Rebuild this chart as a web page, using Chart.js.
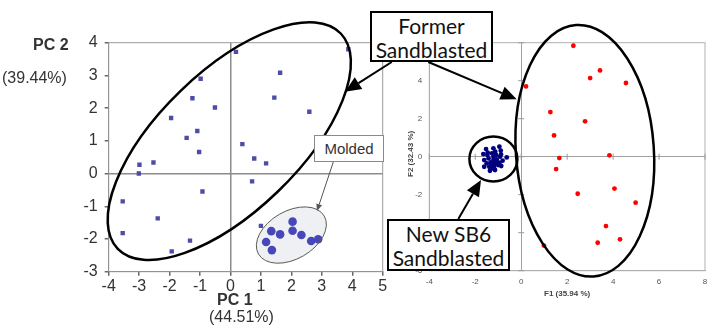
<!DOCTYPE html>
<html>
<head>
<meta charset="utf-8">
<script src="https://cdn.jsdelivr.net/npm/chart.js@4.4.0/dist/chart.umd.min.js"></script>
<style>
  body { margin: 0; background: #fff; }
  #wrap { position: relative; width: 719px; height: 329px; overflow: hidden; }
  canvas { position: absolute; top: 0; }
  #left { left: 0; }
  #right { left: 390px; }
  #arrows { left: 0; z-index: 2; pointer-events: none; }
  .lbl { position: absolute; font-family: "Liberation Sans", Arial, sans-serif; color: #333; white-space: nowrap; z-index: 3; }
  .box { position: absolute; background: #fff; border: 2px solid #000; box-sizing: border-box;
         font-family: Lato, "Noto Sans", sans-serif; font-size: 21px; line-height: 24px; text-align: center; color: #111; z-index: 4; }
  #molded { position: absolute; left: 314px; top: 135px; width: 70px; height: 27px; box-sizing: border-box;
            border: 1px solid #8a8a8a; background: #fff; font-family: "Liberation Sans", Arial, sans-serif;
            font-size: 15px; line-height: 25px; text-align: center; color: #333; z-index: 3; }
</style>
</head>
<body>
<div id="wrap">
  <canvas id="left" width="390" height="329"></canvas>
  <canvas id="right" width="329" height="329"></canvas>
  <canvas id="arrows" width="719" height="329"></canvas>

  <div class="lbl" style="left:33px; top:36px; font-size:16px; font-weight:bold;">PC 2</div>
  <div class="lbl" style="left:2px; top:69px; font-size:16px;">(39.44%)</div>
  <div class="lbl" style="left:217px; top:291px; font-size:16px; font-weight:bold;">PC 1</div>
  <div class="lbl" style="left:209px; top:308px; font-size:16px;">(44.51%)</div>

  <div class="lbl" style="left:544px; top:289px; font-size:8px; font-weight:bold; color:#444;">F1 (35.94 %)</div>
  <div class="lbl" style="left:386px; top:149px; font-size:8px; font-weight:bold; color:#444; transform:rotate(-90deg); transform-origin:24px 4px;">F2 (32.43 %)</div>

  <div id="molded">Molded</div>
  <div class="box" style="left:370px; top:11px; width:123px; height:51px; padding-top:1px;">Former<br>Sandblasted</div>
  <div class="box" style="left:387px; top:219px; width:123px; height:52px; padding-top:1px;">New SB6<br>Sandblasted</div>
</div>

<script>
// left plot: PC 1 / PC 2
const pcSandX = [0.18, 3.87, 1.63, -0.98, -1.25, 1.44, -0.51, 2.59, -1.95, -1.09, -1.44, 0.39, -1.03,
  0.78, 1.17, -2.53, -2.99, -3.01, 0.71, -0.92, -3.54, -2.39, -3.54, -1.33, -1.93, 1.0];
const pcSandY = [3.72, 3.80, 3.08, 2.90, 2.30, 2.32, 2.02, 1.89, 1.70, 1.30, 1.09, 0.90, 0.66,
  0.46, 0.31, 0.34, 0.27, 0.00, -0.24, -0.55, -0.85, -1.37, -1.82, -2.05, -2.38, -1.60];
const moldedX = [1.34, 1.63, 2.04, 2.04, 2.33, 1.17, 1.36, 2.65, 2.88];
const moldedY = [-1.76, -1.86, -1.47, -1.75, -1.88, -2.09, -2.34, -2.06, -2.01];

// right plot: F1 / F2
const formerX = [2.27, 3.43, 3.00, 4.56, 0.21, 1.27, 2.78, 1.43, 1.66, 3.84, 1.52, 2.46, 4.06,
  4.98, 3.69, 4.30, 3.33, 0.99];
const formerY = [5.84, 4.54, 4.14, 3.88, 3.70, 2.35, 1.86, 1.12, -0.07, 0.07, -0.65, -1.95, -1.68,
  -2.42, -3.65, -4.35, -4.53, -4.68];
const newSbX = [-1.53, -1.65, -1.46, -1.21, -0.95, -1.27, -1.13, -0.88, -0.63, -1.61, -1.42, -1.21,
  -1.07, -0.92, -1.33, -1.14, -1.00, -0.87, -1.61, -1.39, -1.24, -1.36, -1.14, -1.21, -1.04, -1.47,
  -1.10, -1.29, -0.95, -0.81, -1.50, -0.89, -1.18];
const newSbY = [0.40, 0.14, 0.21, 0.44, 0.53, 0.18, 0.26, 0.12, -0.04, -0.18, -0.09, 0.00,
  -0.14, 0.00, -0.30, -0.35, -0.44, -0.49, -0.53, -0.53, -0.61, -0.74, -0.70, -0.18, -0.26, 0.09,
  0.09, -0.44, -0.32, -0.21, -0.35, 0.32, -0.53];

const pcXTicks = [-4, 5, 1];
const pcYTicks = [-3, 4, 1];
const fXTicks = [-4, 8, 2];
const fYTicks = [-6, 6, 2];

function pts(xs, ys) {
  return xs.map((x, i) => ({ x: x, y: ys[i] }));
}

// group outlines, centred on data values
const pcGroups = [
  { x: -0.04, y: 0.99, rx: 155, ry: 70, angle: -44, stroke: '#000', width: 2.5 },
  { x: 2.0, y: -1.88, rx: 38, ry: 24, angle: -30, stroke: '#5a5a50', width: 1, shade: '#eef0f4' },
];
const fGroups = [
  { x: 2.77, y: 0.31, rx: 69, ry: 126, angle: -4, stroke: '#000', width: 2.5 },
  { x: -1.21, y: -0.12, rx: 24, ry: 22.5, angle: 0, stroke: '#000', width: 2.5 },
];

function ellipsePath(chart, s) {
  const ctx = chart.ctx;
  const cx = chart.scales.x.getPixelForValue(s.x);
  const cy = chart.scales.y.getPixelForValue(s.y);
  ctx.beginPath();
  ctx.ellipse(cx, cy, s.rx, s.ry, s.angle * Math.PI / 180, 0, Math.PI * 2);
}

function groupPlugin(shapes, frame, zeroTicks) {
  return {
    id: 'groups',
    beforeDatasetsDraw(chart) {
      const ctx = chart.ctx;
      const a = chart.chartArea;
      ctx.save();
      ctx.strokeStyle = frame;
      ctx.lineWidth = 1;
      ctx.strokeRect(a.left, a.top, a.right - a.left, a.bottom - a.top);
      if (zeroTicks) {
        const x0 = chart.scales.x.getPixelForValue(0);
        const y0 = chart.scales.y.getPixelForValue(0);
        ctx.strokeStyle = '#999';
        chart.scales.x.ticks.forEach(t => {
          const px = chart.scales.x.getPixelForValue(t.value);
          ctx.beginPath(); ctx.moveTo(px, y0 - 3); ctx.lineTo(px, y0 + 3); ctx.stroke();
        });
        chart.scales.y.ticks.forEach(t => {
          const py = chart.scales.y.getPixelForValue(t.value);
          ctx.beginPath(); ctx.moveTo(x0 - 3, py); ctx.lineTo(x0 + 3, py); ctx.stroke();
        });
      }
      shapes.forEach(s => {
        if (!s.shade) return;
        ellipsePath(chart, s);
        ctx.fillStyle = s.shade;
        ctx.fill();
      });
      ctx.restore();
    },
    afterDatasetsDraw(chart) {
      const ctx = chart.ctx;
      ctx.save();
      shapes.forEach(s => {
        ellipsePath(chart, s);
        ctx.strokeStyle = s.stroke;
        ctx.lineWidth = s.width;
        ctx.stroke();
      });
      ctx.restore();
    }
  };
}

function zeroLine(color) {
  return c => (c.tick && c.tick.value === 0 ? color : 'rgba(0,0,0,0)');
}

new Chart(document.getElementById('left'), {
  type: 'scatter',
  data: {
    datasets: [
      { data: pts(pcSandX, pcSandY), pointStyle: 'rect', pointRadius: 3.1, backgroundColor: '#4d4da6', borderWidth: 0 },
      { data: pts(moldedX, moldedY), pointRadius: 4.3, backgroundColor: '#4747b8', borderWidth: 0 },
    ]
  },
  options: {
    responsive: false,
    animation: false,
    layout: { padding: { left: 0, right: 7.3, top: 42.7, bottom: 0 } },
    plugins: {
      legend: { display: false },
      tooltip: { enabled: false },
    },
    scales: {
      x: {
        min: pcXTicks[0], max: pcXTicks[1],
        ticks: { stepSize: pcXTicks[2], padding: 1, color: '#333', font: { family: 'Liberation Sans', size: 16 } },
        grid: { color: zeroLine('#8c8c8c'), lineWidth: 1.5, tickColor: '#666', tickLength: 4 },
        border: { color: '#777', width: 1 },
        afterFit: s => { s.height = 57.3; },
      },
      y: {
        min: pcYTicks[0], max: pcYTicks[1],
        ticks: { stepSize: pcYTicks[2], padding: 7, color: '#333', font: { family: 'Liberation Sans', size: 16 } },
        grid: { color: zeroLine('#8c8c8c'), lineWidth: 1.5, tickColor: '#666', tickLength: 4 },
        border: { color: '#777', width: 1 },
        afterFit: s => { s.width = 108.7; },
      }
    }
  },
  plugins: [groupPlugin(pcGroups, '#9a9a9a', false)]
});

new Chart(document.getElementById('right'), {
  type: 'scatter',
  data: {
    datasets: [
      { data: pts(formerX, formerY), pointRadius: 2.4, backgroundColor: '#ff0000', borderWidth: 0 },
      { data: pts(newSbX, newSbY), pointRadius: 2.4, backgroundColor: '#00007f', borderWidth: 0 },
    ]
  },
  options: {
    responsive: false,
    animation: false,
    layout: { padding: { left: 0, right: 14, top: 42.7, bottom: 0 } },
    plugins: {
      legend: { display: false },
      tooltip: { enabled: false },
    },
    scales: {
      x: {
        min: fXTicks[0], max: fXTicks[1],
        ticks: { stepSize: fXTicks[2], padding: 6, color: '#555', font: { family: 'Liberation Sans', size: 8 } },
        grid: { color: zeroLine('#a0a0a0'), lineWidth: 1, drawTicks: false },
        border: { color: '#b0b0b0', width: 1 },
        afterFit: s => { s.height = 58.3; },
      },
      y: {
        min: fYTicks[0], max: fYTicks[1],
        ticks: { stepSize: fYTicks[2], padding: 7, color: '#555', font: { family: 'Liberation Sans', size: 8 } },
        grid: { color: zeroLine('#a0a0a0'), lineWidth: 1, drawTicks: false },
        border: { color: '#b0b0b0', width: 1 },
        afterFit: s => { s.width = 39.3; },
      }
    }
  },
  plugins: [groupPlugin(fGroups, '#b0b0b0', true)]
});

// callout arrows between the boxes and the groups
function arrow(ctx, x1, y1, x2, y2, color, width, head, half) {
  const ang = Math.atan2(y2 - y1, x2 - x1);
  const bx = x2 - head * Math.cos(ang);
  const by = y2 - head * Math.sin(ang);
  ctx.strokeStyle = color;
  ctx.fillStyle = color;
  ctx.lineWidth = width;
  ctx.beginPath();
  ctx.moveTo(x1, y1);
  ctx.lineTo(bx, by);
  ctx.stroke();
  ctx.beginPath();
  ctx.moveTo(x2, y2);
  ctx.lineTo(bx + half * Math.sin(ang), by - half * Math.cos(ang));
  ctx.lineTo(bx - half * Math.sin(ang), by + half * Math.cos(ang));
  ctx.closePath();
  ctx.fill();
}

const actx = document.getElementById('arrows').getContext('2d');
arrow(actx, 391.7, 62, 345, 91.7, '#000', 2, 16, 7);
arrow(actx, 428.3, 62, 516.7, 99.3, '#000', 2, 16, 7);
arrow(actx, 458.3, 219, 481, 180, '#000', 2, 16, 7);
arrow(actx, 333.3, 162, 317, 211, '#555', 1, 7, 3);
</script>
</body>
</html>
